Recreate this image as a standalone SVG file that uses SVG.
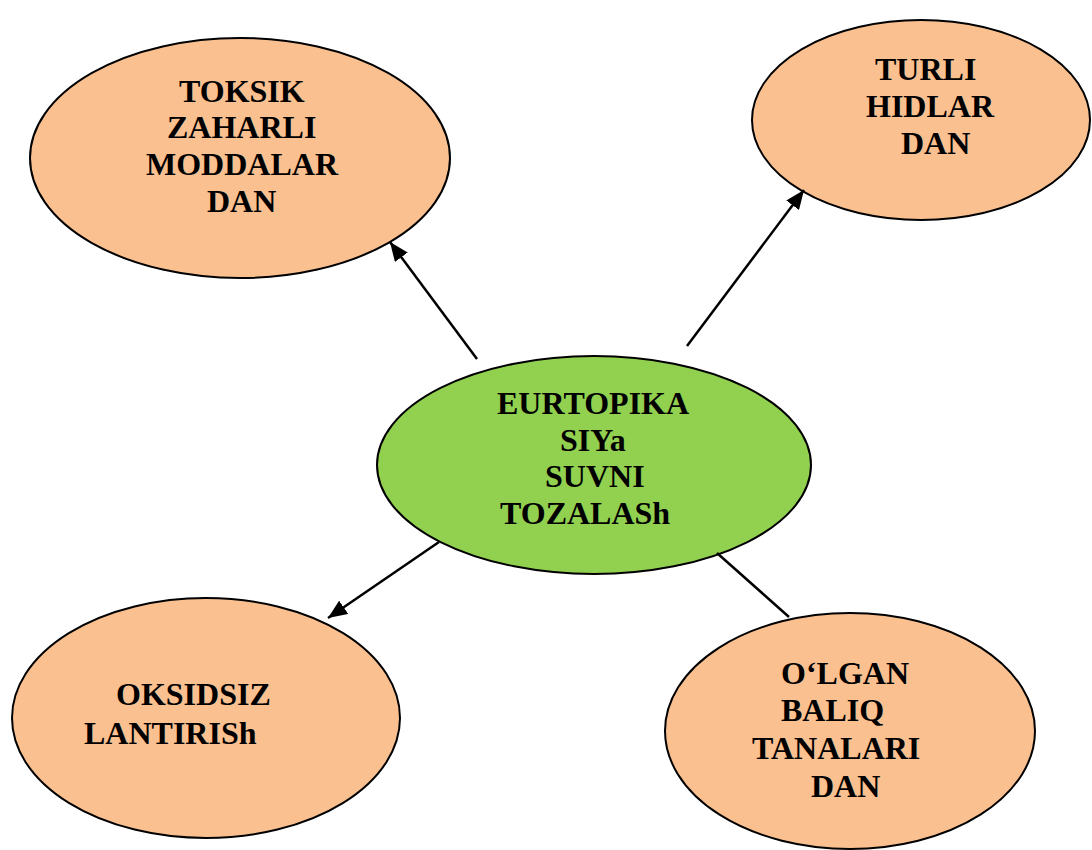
<svg xmlns="http://www.w3.org/2000/svg" width="1092" height="850" viewBox="0 0 1092 850">
  <style>
    .node { stroke: #000; stroke-width: 2; }
    .peach { fill: #FAC090; }
    .green { fill: #92D050; }
    .label { font-family: "Liberation Serif", "Times New Roman", serif; font-weight: bold; font-size: 32px; fill: #000; }
    .link { stroke: #000; stroke-width: 2.5; fill: none; }
  </style>
  <defs>
    <marker id="arrow" markerUnits="userSpaceOnUse" markerWidth="20" markerHeight="16" refX="19" refY="8" orient="auto">
      <path d="M0,0 L19,8 L0,16 Z" fill="#000"/>
    </marker>
  </defs>
  <rect width="1092" height="850" fill="#fff"/>

  <g id="node-toksik">
    <ellipse class="node peach" cx="240" cy="158" rx="210" ry="120"/>
    <text class="label" x="179" y="102">TOKSIK</text>
    <text class="label" x="167" y="138">ZAHARLI</text>
    <text class="label" x="146" y="175">MODDALAR</text>
    <text class="label" x="207" y="212">DAN</text>
  </g>

  <g id="node-turli">
    <ellipse class="node peach" cx="921" cy="120" rx="169" ry="100"/>
    <text class="label" x="875" y="80">TURLI</text>
    <text class="label" x="866" y="117">HIDLAR</text>
    <text class="label" x="901" y="154">DAN</text>
  </g>

  <g id="node-center">
    <ellipse class="node green" cx="594" cy="465" rx="217" ry="109"/>
    <text class="label" x="497" y="414">EURTOPIKA</text>
    <text class="label" x="560" y="451">SIYa</text>
    <text class="label" x="545" y="487">SUVNI</text>
    <text class="label" x="500" y="524">TOZALASh</text>
  </g>

  <g id="node-oksidsiz">
    <ellipse class="node peach" cx="206" cy="718" rx="194" ry="120"/>
    <text class="label" x="116" y="705">OKSIDSIZ</text>
    <text class="label" x="84" y="744">LANTIRISh</text>
  </g>

  <g id="node-olgan">
    <ellipse class="node peach" cx="850" cy="731" rx="185" ry="118"/>
    <text class="label" x="781" y="684">O‘LGAN</text>
    <text class="label" x="781" y="721">BALIQ</text>
    <text class="label" x="752" y="759">TANALARI</text>
    <text class="label" x="811" y="797">DAN</text>
  </g>

  <g id="connectors">
    <line class="link" x1="477" y1="359" x2="390" y2="242" marker-end="url(#arrow)"/>
    <line class="link" x1="687" y1="346" x2="804" y2="190" marker-end="url(#arrow)"/>
    <line class="link" x1="439" y1="542" x2="328" y2="618" marker-end="url(#arrow)"/>
    <line class="link" x1="717" y1="553" x2="789" y2="617"/>
  </g>
</svg>
